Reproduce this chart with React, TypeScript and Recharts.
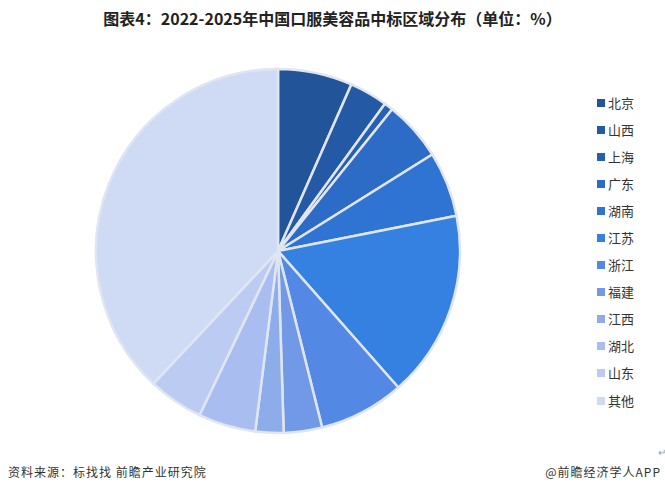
import { PieChart, Pie, Cell, Legend } from 'recharts'

const regions = ['北京', '山西', '上海', '广东', '湖南', '江苏', '浙江', '福建', '江西', '湖北', '山东', '其他']
const shares = [6.6, 3.4, 0.8, 5.3, 5.8, 16.6, 7.6, 3.4, 2.5, 5.1, 4.9, 38.0]
const colors = [
  '#22549a', '#2459a6', '#2760b2', '#2c6bc6', '#2f74d2', '#3581e2',
  '#5389e4', '#7199e6', '#8dadea', '#a9bdf0', '#bccbf2', '#cfdaf4',
]

const data = regions.map((name, i) => ({ name, value: shares[i] }))

const font = '"Noto Sans CJK SC", "Noto Sans", sans-serif'

function LegendList() {
  return (
    <div style={{ fontFamily: font }}>
      {data.map((d, i) => (
        <div key={d.name} style={{ display: 'flex', alignItems: 'center', height: 27.1 }}>
          <span style={{ width: 8, height: 8, background: colors[i], marginRight: 3, display: 'inline-block' }} />
          <span style={{ fontSize: 13, color: '#333', lineHeight: '14px' }}>{d.name}</span>
        </div>
      ))}
    </div>
  )
}

export default function App() {
  return (
    <div style={{ position: 'absolute', left: 0, top: 0, width: 665, height: 494, background: '#fff', fontFamily: font }}>
      <div style={{ position: 'absolute', top: 7, left: 0, width: 665, textAlign: 'center', fontSize: 16, fontWeight: 700, color: '#222', lineHeight: '22px' }}>
        图表4：2022-2025年中国口服美容品中标区域分布（单位：%）
      </div>
      <PieChart width={665} height={494} margin={{ top: 0, right: 0, bottom: 0, left: 0 }} style={{ position: 'absolute', left: 0, top: 0 }}>
        <Pie
          data={data}
          dataKey="value"
          nameKey="name"
          cx={278}
          cy={251}
          outerRadius={182}
          startAngle={90}
          endAngle={-270}
          stroke="#dfe5f1"
          strokeWidth={2.5}
          isAnimationActive={false}
        >
          {data.map((d, i) => (
            <Cell key={d.name} fill={colors[i]} />
          ))}
        </Pie>
        <Legend content={() => <LegendList />} wrapperStyle={{ position: 'absolute', left: 597, top: 89, width: 60 }} />
      </PieChart>
      <div style={{ position: 'absolute', left: 658, top: 444, fontSize: 10, color: '#999' }}>↵</div>
      <div style={{ position: 'absolute', left: 8, top: 463, fontSize: 12, letterSpacing: 1, color: '#333', lineHeight: '18px' }}>
        资料来源：标找找 前瞻产业研究院
      </div>
      <div style={{ position: 'absolute', right: 4, top: 463, fontSize: 12, letterSpacing: 1, color: '#333', lineHeight: '18px' }}>
        @前瞻经济学人APP
      </div>
    </div>
  )
}
